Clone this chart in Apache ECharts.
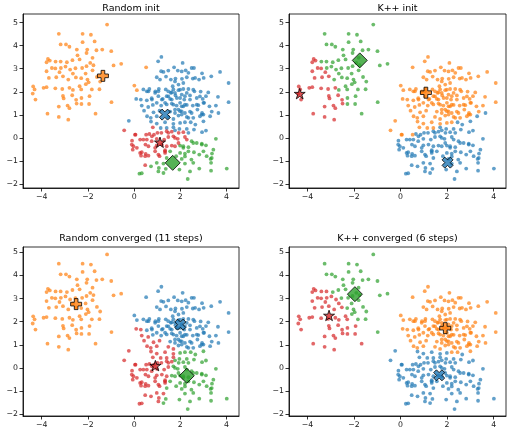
<!DOCTYPE html>
<html>
<head>
<meta charset="utf-8">
<script src="https://cdn.jsdelivr.net/npm/echarts@6/dist/echarts.min.js"></script>
<style>
html, body { margin: 0; padding: 0; background: #fff; }
#main { width: 512px; height: 435px; }
</style>
</head>
<body>
<div id="main"></div>
<script>
// the same points in all four panels
var points = [
  // left blob
  [-1.17,4.91],[-3.26,4.51],[-2.23,4.51],[-1.87,4.47],[-3.18,4.05],[-2.95,4.05],[-2.23,4.15],[-1.71,4.18],
  [-2.80,3.95],[-2.48,3.83],[-2.03,3.83],[-1.63,3.80],[-1.38,3.83],[-0.99,3.76],[-3.73,3.42],[-3.65,3.35],
  [-3.40,3.31],[-3.18,3.31],[-2.91,3.28],[-3.79,3.28],[-2.67,3.37],[-2.36,3.40],[-1.80,3.47],[-2.06,3.68],
  [-2.45,3.58],[-0.56,3.21],[-0.89,3.14],[-3.56,3.03],[-3.41,3.01],[-3.17,3.03],[-2.97,3.09],[-2.77,2.96],
  [-2.54,3.02],[-2.25,3.03],[-2.06,3.11],[-1.90,3.25],[-1.76,3.15],[-3.79,2.89],[-3.23,2.85],[-3.37,2.63],
  [-3.69,2.60],[-3.08,2.67],[-2.85,2.53],[-2.52,2.62],[-2.65,2.79],[-2.29,2.59],[-2.10,2.79],[-2.02,2.53],
  [-1.80,2.93],[-1.61,2.64],[-1.47,2.44],[-3.92,2.17],[-3.79,2.20],[-3.41,2.15],[-3.11,2.12],[-2.80,2.17],
  [-2.65,2.08],[-2.36,2.24],[-2.29,2.10],[-2.09,2.33],[-1.97,2.41],[-1.83,2.10],[-1.50,2.11],[-4.37,2.23],
  [-4.31,2.10],[-4.39,1.92],[-4.27,1.66],[-3.08,1.82],[-2.68,1.85],[-3.05,1.71],[-2.28,1.73],[-1.93,1.81],
  [-0.98,1.55],[-2.49,1.49],[-2.88,1.40],[-2.28,1.47],[-1.95,1.47],[-3.26,1.36],[-3.75,1.05],[-1.67,1.05],
  [-3.26,0.91],[-2.85,0.79],[-2.80,1.29],[-2.51,1.65],
  // right blob, upper part
  [0.52,3.06],[0.01,2.27],
  [1.18,3.51],[2.10,3.25],[1.04,3.32],[1.17,2.89],[1.27,2.86],[1.48,2.92],[1.73,3.06],[1.89,2.92],
  [2.06,2.88],[2.23,2.93],[2.49,3.03],[2.59,3.03],[2.94,2.80],[3.72,2.86],[0.98,2.63],[1.12,2.53],
  [1.38,2.66],[1.59,2.53],[1.79,2.57],[2.07,2.56],[2.28,2.63],[2.54,2.57],[2.81,2.53],[3.01,2.60],
  [3.34,2.67],[4.09,2.38],[0.40,2.10],[0.55,2.02],[0.12,2.07],[0.66,2.12],[0.92,2.02],[1.07,2.12],
  [1.37,2.10],[1.48,2.02],[1.59,1.95],[1.70,2.10],[1.92,2.07],[2.13,2.12],[2.35,2.12],[2.61,2.02],
  [2.88,2.01],[3.21,1.97],[0.09,1.69],[0.29,1.66],[0.55,1.63],[0.76,1.72],[1.05,1.81],[1.24,1.69],
  [1.41,1.81],[1.56,1.69],[1.79,1.84],[1.99,1.73],[2.20,1.81],[2.42,1.84],[2.71,1.73],[2.97,1.69],
  [3.11,1.81],[3.63,1.78],[4.09,1.55],[0.33,1.40],[0.61,1.34],[0.81,1.43],[0.98,1.52],[1.17,1.40],
  [1.41,1.45],[1.63,1.49],[1.84,1.40],[2.06,1.37],[2.28,1.43],[2.54,1.40],[2.78,1.42],[3.03,1.52],
  [3.26,1.37],[3.54,1.40],[0.43,1.18],[0.84,1.11],[1.10,1.18],[1.56,1.14],[1.77,1.23],[1.99,1.16],
  [2.20,1.08],[2.42,1.14],[2.74,1.23],[2.94,1.08],[3.36,1.14],[3.65,1.08],[0.56,0.94],[0.72,0.87],
  [0.98,0.94],[1.48,0.91],[1.70,0.82],[1.92,0.97],[2.28,0.91],[2.56,0.87],[2.85,0.94],[3.00,1.01],
  [3.29,0.94],[-0.23,0.74],[0.73,0.71],[0.98,0.62],[1.34,0.68],[1.70,0.61],[1.99,0.65],[2.20,0.68],
  [2.45,0.68],[2.65,0.58],[3.00,0.72],[0.81,0.46],[1.15,0.43],[1.41,0.43],[1.70,0.46],[1.96,0.39],
  [2.28,0.39],[2.59,0.36],[2.94,0.25],[3.11,0.32],
  // dense core of the right blob
  [1.77,2.45],[1.92,2.31],[1.67,2.24],[2.13,2.38],[1.99,2.09],[1.77,1.95],[1.63,1.98],[2.06,1.88],
  [1.85,1.73],[2.17,1.66],[1.99,1.52],[1.70,1.44],[2.13,1.37],[1.92,1.23],[1.77,1.08],[2.06,1.01],
  [1.63,1.66],[1.48,1.80],[1.34,1.52],[1.20,1.66],[1.05,2.02],[0.91,1.95],[0.77,1.66],[0.62,2.02],
  [2.28,1.95],[2.42,1.66],[2.20,1.44],[2.56,2.09],[2.71,1.44],[2.85,1.80],[3.00,1.52],[2.06,1.15],
  [2.49,1.08],[2.93,1.01],[2.35,0.87],[2.64,2.60],[2.35,2.82],
  // right blob, lower left part
  [-0.43,0.33],[0.06,0.14],[0.52,0.14],[0.66,0.17],[0.86,0.14],[1.01,0.22],[1.18,0.22],[1.41,0.29],
  [1.63,0.27],[1.77,0.33],[1.93,0.22],[2.13,0.25],[2.35,0.22],[-0.09,-0.12],[0.26,-0.07],[0.55,-0.07],
  [0.76,-0.14],[0.98,-0.04],[1.30,-0.07],[1.48,0.04],[1.70,0.07],[1.89,-0.04],[2.20,0.04],[-0.03,-0.36],
  [0.12,-0.43],[0.49,-0.29],[0.62,-0.36],[0.98,-0.32],[1.20,-0.29],[1.41,-0.36],[1.63,-0.33],[-0.06,-0.51],
  [0.33,-0.62],[0.50,-0.69],[0.91,-0.58],[1.05,-0.72],[1.34,-0.65],[0.30,-0.77],[0.48,-0.79],[0.62,-0.77],
  [0.04,0.14],[0.40,-0.07],[0.77,0.07],[1.48,0.22],[1.77,0.00],[1.92,-0.22],[0.91,-0.43],[1.34,-0.58],
  [0.26,-0.65],[-0.10,-0.29],
  // right blob, lower right part
  [3.54,-0.04],[2.28,-0.07],[2.49,-0.14],[2.71,-0.22],[2.93,-0.25],[3.11,-0.32],[3.00,-0.58],[1.77,-0.36],
  [1.99,-0.33],[2.13,-0.43],[2.35,-0.40],[1.34,-0.53],[1.56,-0.58],[1.99,-0.65],[2.20,-0.68],[2.59,-0.62],
  [2.82,-0.72],[3.14,-0.79],[1.10,-0.79],[1.41,-0.87],[1.82,-0.79],[2.06,-0.91],[2.48,-0.94],[3.37,-0.68],
  [3.31,-0.91],[0.98,-1.08],[1.27,-1.11],[2.20,-1.11],[2.56,-1.08],[3.33,-1.08],[0.48,-1.18],[0.73,-1.23],
  [1.07,-1.30],[1.37,-1.34],[1.96,-1.37],[2.82,-1.33],[3.33,-1.42],[4.01,-1.33],[0.23,-1.55],[0.33,-1.53],
  [1.05,-1.45],[1.27,-1.52],[2.42,-1.45],[2.32,-1.78],
  [2.13,-0.36],[2.35,-0.58],[2.56,-0.22],[2.93,-0.29],[2.20,-0.80],[3.43,-0.51],[3.36,-0.87]
];

// centroids per panel, in cluster order: blue, orange, green, red
var randomInit = [[1.33,1.01],[-1.35,2.69],[1.67,-1.08],[1.12,-0.19]];
var kppInit = [[2.02,-1.07],[1.09,1.96],[-1.75,3.36],[-4.33,1.92]];
var randomConverged = [[2.00,1.87],[-2.51,2.76],[2.28,-0.34],[0.92,0.10]];
var kppConverged = [[1.66,-0.32],[1.92,1.72],[-1.96,3.19],[-3.07,2.27]];

var titles = ['Random init', 'K++ init', 'Random converged (11 steps)', 'K++ converged (6 steps)'];
var xTicks = [-4, -2, 0, 2, 4];
var yTicks = [-2, -1, 0, 1, 2, 3, 4, 5];

var panels = [randomInit, kppInit, randomConverged, kppConverged];
var colors = ['#1f77b4', '#ff7f0e', '#2ca02c', '#d62728'];
var starPath = 'path://M0,-1L-0.2245,-0.309L-0.951,-0.309L-0.363,0.118L-0.588,0.809L0,0.382L0.588,0.809L0.363,0.118L0.951,-0.309L0.2245,-0.309Z';
var plusPath = 'path://M-1,-3L1,-3L1,-1L3,-1L3,1L1,1L1,3L-1,3L-1,1L-3,1L-3,-1L-1,-1Z';
var xPath = 'path://M-1,-2L0,-1L1,-2L2,-1L1,0L2,1L1,2L0,1L-1,2L-2,1L-1,0L-2,-1Z';
var markerSymbols = [xPath, plusPath, 'diamond', starPath];
var markerSizes = [11, 11, 15, 11];

var grids = [
  { left: 23, top: 14, width: 216, height: 174 },
  { left: 289, top: 14, width: 217, height: 174 },
  { left: 23, top: 247, width: 216, height: 169 },
  { left: 289, top: 247, width: 217, height: 169 }
];
var xLims = [[-4.81, 4.54], [-4.79, 4.53], [-4.81, 4.54], [-4.79, 4.53]];
var yLims = [[-2.17, 5.37], [-2.17, 5.37], [-2.08, 5.23], [-2.08, 5.23]];
var titleTops = [4, 4, 234, 234];

function nearest(p, cents) {
  var best = 0, bd = Infinity;
  for (var c = 0; c < cents.length; c++) {
    var dx = p[0] - cents[c][0], dy = p[1] - cents[c][1];
    var d = dx * dx + dy * dy;
    if (d < bd) { bd = d; best = c; }
  }
  return best;
}

function minus(v) { return String(v).replace('-', '\u2212'); }

var font = 'DejaVu Sans';
var option = {
  animation: false,
  backgroundColor: '#fff',
  title: [],
  grid: [],
  xAxis: [],
  yAxis: [],
  series: []
};

panels.forEach(function (cents, i) {
  var g = grids[i];
  option.grid.push({
    left: g.left, top: g.top, width: g.width, height: g.height,
    show: true, borderColor: '#000', borderWidth: 0.8, backgroundColor: 'transparent'
  });
  option.title.push({
    text: titles[i], left: g.left + g.width / 2, top: titleTops[i],
    textAlign: 'center', padding: 0,
    textStyle: { fontSize: 9.5, fontWeight: 'normal', color: '#000', fontFamily: font }
  });
  option.xAxis.push({
    type: 'value', gridIndex: i, min: xLims[i][0], max: xLims[i][1],
    splitLine: { show: false },
    axisLine: { show: true, onZero: false, lineStyle: { color: '#000', width: 0.8 } },
    axisTick: { show: true, length: 3.5, customValues: xTicks, lineStyle: { color: '#000', width: 0.8 } },
    axisLabel: { customValues: xTicks, fontSize: 7.8, color: '#222', margin: 5, fontFamily: font, formatter: minus }
  });
  option.yAxis.push({
    type: 'value', gridIndex: i, min: yLims[i][0], max: yLims[i][1],
    splitLine: { show: false },
    axisLine: { show: true, onZero: false, lineStyle: { color: '#000', width: 0.8 } },
    axisTick: { show: true, length: 3.5, customValues: yTicks, lineStyle: { color: '#000', width: 0.8 } },
    axisLabel: { customValues: yTicks, fontSize: 7.8, color: '#222', margin: 5, fontFamily: font, formatter: minus }
  });

  var groups = [[], [], [], []];
  points.forEach(function (p) { groups[nearest(p, cents)].push(p); });

  groups.forEach(function (grp, c) {
    option.series.push({
      type: 'scatter', xAxisIndex: i, yAxisIndex: i, data: grp,
      symbolSize: 3.8, silent: true, z: 2,
      itemStyle: { color: colors[c], opacity: 0.7 }
    });
  });
  cents.forEach(function (ct, c) {
    option.series.push({
      type: 'scatter', xAxisIndex: i, yAxisIndex: i, data: [ct],
      symbol: markerSymbols[c], symbolSize: markerSizes[c], symbolKeepAspect: true,
      silent: true, z: 5,
      itemStyle: { color: colors[c], borderColor: '#000', borderWidth: 1 }
    });
  });
});

var myChart = echarts.init(document.getElementById('main'));
myChart.setOption(option);
</script>
</body>
</html>
